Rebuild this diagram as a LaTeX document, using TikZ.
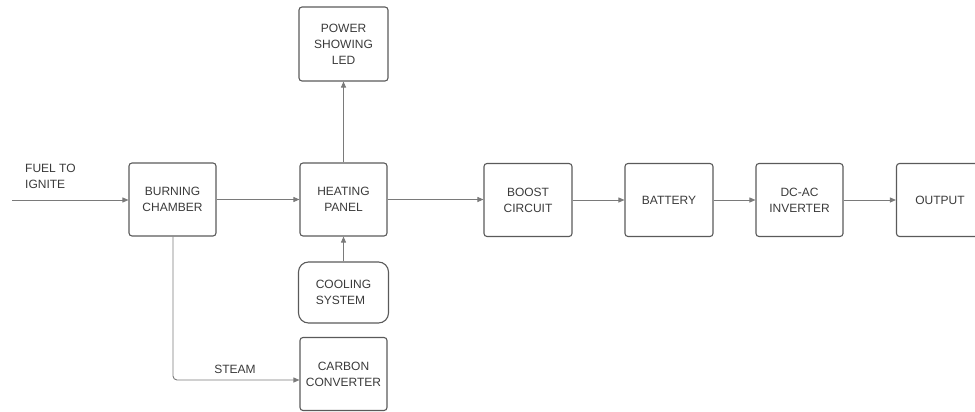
\documentclass[tikz,border=0pt]{standalone}
\usepackage{fontspec}
\setmainfont{Liberation Sans}
\usetikzlibrary{arrows.meta}
\definecolor{boxline}{HTML}{5A5A5A}
\definecolor{arrline}{HTML}{7A7A7A}
\definecolor{txt}{HTML}{3A3A3A}
\begin{document}
\begin{tikzpicture}[x=1pt,y=-1pt,
  blk/.style={draw=boxline,line width=1.1pt,rounded corners=3pt,minimum width=87pt,minimum height=73pt,
    align=center,font=\fontsize{12}{16}\selectfont,text=txt,inner sep=0pt},
  conn/.style={draw=arrline,line width=0.9pt,-{Triangle[length=6pt,width=5pt]}},
  lbl/.style={font=\fontsize{12}{16}\selectfont,text=txt,align=left,inner sep=0pt}]
\useasboundingbox (0,0) rectangle (975,412);
\begin{scope}
\clip (0,0) rectangle (975,412);
\node[blk] (burn) at (172.5,199.5) {BURNING\\CHAMBER};
\node[blk] (heat) at (343.5,199.5) {HEATING\\PANEL};
\node[blk,minimum height=74pt,minimum width=89pt] (led) at (343.5,44) {POWER\\SHOWING\\LED};
\node[blk,rounded corners=10pt,minimum width=90pt,minimum height=61pt,align=left] (cool) at (343.5,292.5) {COOLING\\SYSTEM};
\node[blk] (carb) at (343.5,374) {CARBON\\CONVERTER};
\node[blk,minimum width=88pt] (boost) at (528,200) {BOOST\\CIRCUIT};
\node[blk,minimum width=88pt] (batt) at (669,200) {BATTERY};
\node[blk,minimum width=87pt] (inv) at (799.5,200) {DC-AC\\INVERTER};
\node[blk,minimum width=87pt] (out) at (940,200) {OUTPUT};
\coordinate (fin) at (12,200);
\node[lbl,anchor=north west] (fuel) at (25,164) {FUEL TO\\IGNITE};
\draw[conn] (fin) -- (burn.west |- fin);
\draw[conn] (burn.east |- heat) -- (heat.west);
\draw[conn] (heat.east) -- (boost.west |- heat.east);
\draw[conn] (boost.east) -- (batt.west);
\draw[conn] (batt.east) -- (inv.west);
\draw[conn] (inv.east) -- (out.west);
\draw[conn] (heat.north) -- (led.south);
\draw[conn] (cool.north -| heat.south) -- (heat.south);
\coordinate (bend) at (173,380);
\draw[conn,rounded corners=4pt] (burn.south -| bend) -- (bend) -- (carb.west |- bend);
\node[lbl,anchor=south] (steam) at (235,374) {STEAM};
\end{scope}
\end{tikzpicture}
\end{document}
